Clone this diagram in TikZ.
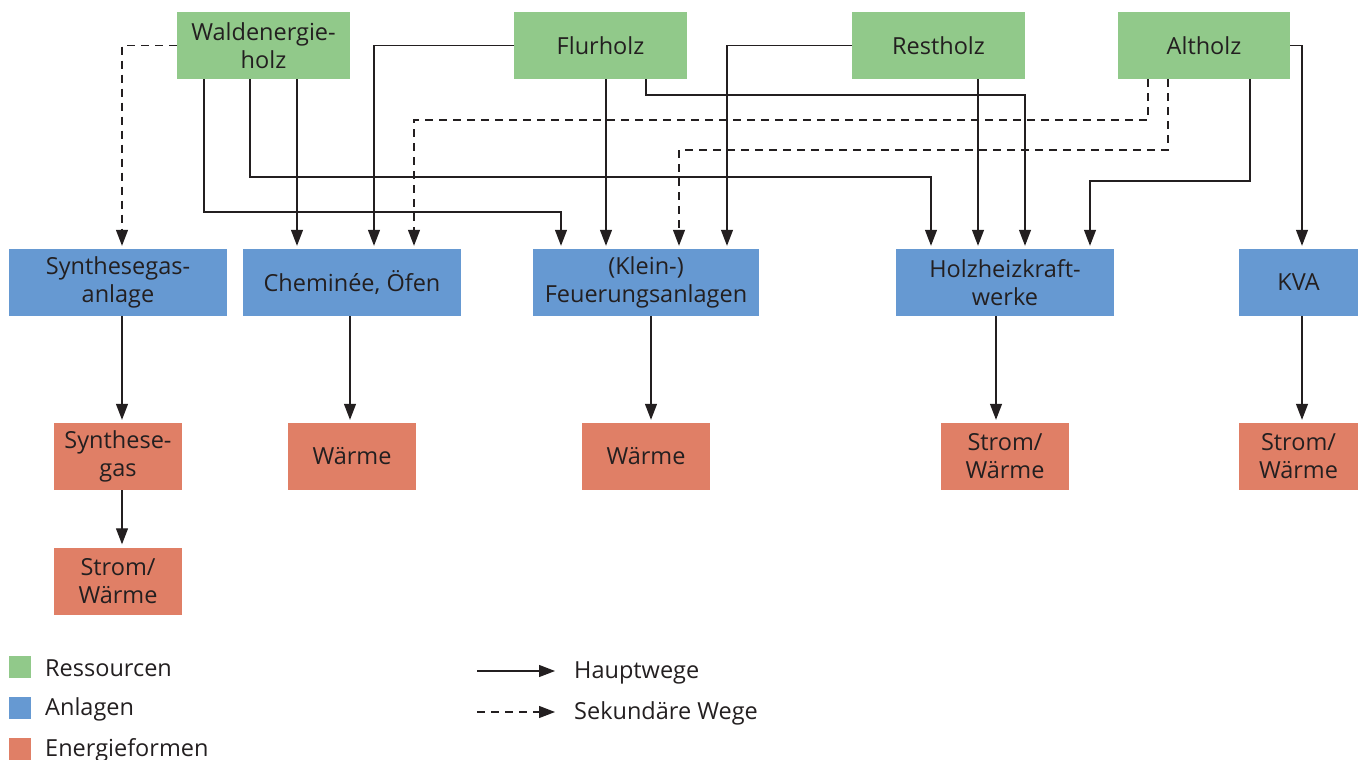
\documentclass[tikz,border=0pt]{standalone}
\usepackage{fontspec}
\setmainfont{Open Sans}
\usetikzlibrary{arrows.meta}
\definecolor{resgreen}{HTML}{91C98A}
\definecolor{anlblue}{HTML}{6699D2}
\definecolor{enred}{HTML}{E07F66}
\definecolor{txt}{HTML}{231F20}
\tikzset{
  box/.style={minimum height=67pt, inner sep=0pt, align=center, text=txt, font=\fontsize{23.5}{28}\selectfont},
  res/.style={box, fill=resgreen, minimum width=173pt},
  anl/.style={box, fill=anlblue, minimum width=218pt},
  ene/.style={box, fill=enred, minimum width=128pt},
  conn/.style={draw=txt, line width=1.2pt, -{Triangle[length=16pt,width=12pt]}, shorten >=3pt},
  sec/.style={conn, dash pattern=on 8pt off 6pt},
  lgsq/.style={fill=#1, minimum size=22pt, inner sep=0pt},
  lgtxt/.style={anchor=west, text=txt, font=\fontsize{23.5}{28}\selectfont, inner sep=0pt}
}
\begin{document}
\begin{tikzpicture}[x=1pt,y=-1pt]
\useasboundingbox (0,0) rectangle (1358,760);
% resources
\node[res] (wald) at (263.5,45.5) {Waldenergie-\\holz};
\node[res] (flur) at (600.5,45.5) {Flurholz};
\node[res] (rest) at (938.5,45.5) {Restholz};
\node[res, minimum width=172pt] (alt) at (1204,45.5) {Altholz};
% plants
\node[anl] (syn) at (118,282.5) {Synthesegas-\\anlage};
\node[anl] (che) at (352,282.5) {Cheminée, Öfen};
\node[anl, minimum width=226pt] (feu) at (646,282.5) {(Klein-)\\Feuerungsanlagen};
\node[anl] (hkw) at (1005,282.5) {Holzheizkraft-\\werke};
\node[anl, minimum width=119pt] (kva) at (1298.5,282.5) {KVA};
% energy
\node[ene] (sgas) at (118,456.5) {Synthese-\\gas};
\node[ene] (w1) at (352,456.5) {Wärme};
\node[ene] (w2) at (646,456.5) {Wärme};
\node[ene] (sw1) at (1005,456.5) {Strom/\\Wärme};
\node[ene, minimum width=119pt] (sw2) at (1298.5,456.5) {Strom/\\Wärme};
\node[ene] (sw3) at (118,581) {Strom/\\Wärme};
% waldenergieholz
\draw[sec] (wald.west) -| (syn.north -| 122,0);
\draw[conn] (wald.south -| 204,0) |- (561,212) -- (feu.north -| 561,0);
\draw[conn] (wald.south -| 250,0) |- (931,177) -- (hkw.north -| 931,0);
\draw[conn] (wald.south -| 297,0) -- (che.north -| 297,0);
% flurholz
\draw[conn] (flur.west) -| (che.north -| 374,0);
\draw[conn] (flur.south -| 606,0) -- (feu.north -| 606,0);
\draw[conn] (flur.south -| 646,0) |- (1025,95) -- (hkw.north -| 1025,0);
% restholz
\draw[conn] (rest.west) -| (feu.north -| 727,0);
\draw[conn] (rest.south -| 978,0) -- (hkw.north -| 978,0);
% altholz
\draw[sec] (alt.south -| 1148,0) |- (414,120) -- (che.north -| 414,0);
\draw[sec] (alt.south -| 1168,0) |- (679,150) -- (feu.north -| 679,0);
\draw[conn] (alt.south -| 1250,0) |- (1090,181) -- (hkw.north -| 1090,0);
\draw[conn] (alt.east) -| (kva.north -| 1302,0);
% down arrows
\draw[conn] (syn.south -| 122,0) -- (sgas.north -| 122,0);
\draw[conn] (che.south -| 350,0) -- (w1.north -| 350,0);
\draw[conn] (feu.south -| 651,0) -- (w2.north -| 651,0);
\draw[conn] (hkw.south -| 996,0) -- (sw1.north -| 996,0);
\draw[conn] (kva.south -| 1302,0) -- (sw2.north -| 1302,0);
\draw[conn] (sgas.south -| 122,0) -- (sw3.north -| 122,0);
% legend
\node[lgsq=resgreen] (lg1) at (20,667) {};
\node[lgsq=anlblue] (lg2) at (20,708) {};
\node[lgsq=enred] (lg3) at (20,749) {};
\node[lgtxt] (lt1) at (45,668.5) {Ressourcen};
\node[lgtxt] (lt2) at (45,709.5) {Anlagen};
\node[lgtxt] (lt3) at (45,750.5) {Energieformen};
\coordinate (la1) at (477,671);
\coordinate (lb1) at (555,671);
\coordinate (la2) at (477,712);
\coordinate (lb2) at (555,712);
\draw[conn, shorten >=0pt] (la1) -- (lb1);
\draw[conn, shorten >=0pt, dash pattern=on 8pt off 6pt] (la2) -- (lb2);
\node[lgtxt] (lt4) at (574,672.5) {Hauptwege};
\node[lgtxt] (lt5) at (574,713.5) {Sekundäre Wege};
\end{tikzpicture}
\end{document}
